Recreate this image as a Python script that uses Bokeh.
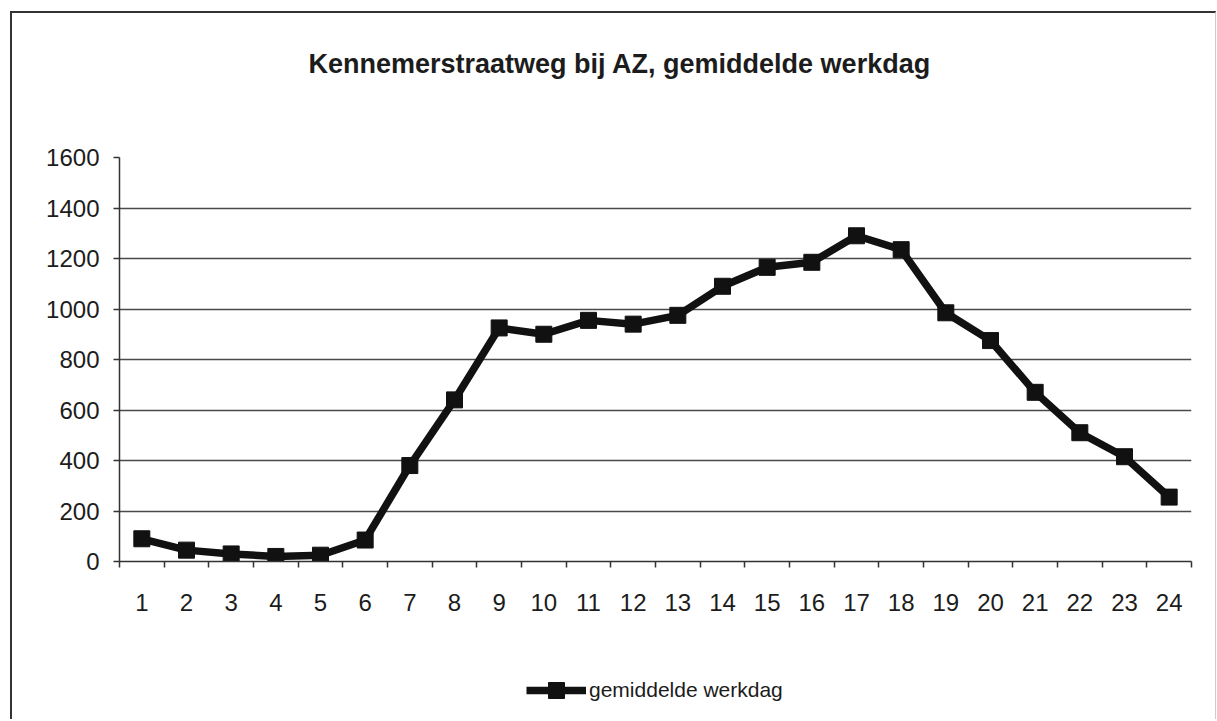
from bokeh.plotting import figure
from bokeh.layouts import column
from bokeh.models import FixedTicker, Legend, LegendItem, Range1d, Title
from bokeh.embed import file_html
from bokeh.resources import INLINE

# ---- data ----
hours = list(range(1, 25))
hour_labels = [str(h) for h in hours]
werkdag = [90, 45, 30, 20, 25, 85, 380, 640, 925, 900, 955, 940,
           975, 1090, 1165, 1185, 1290, 1235, 985, 875, 670, 510, 415, 255]
y_ticks = [0, 200, 400, 600, 800, 1000, 1200, 1400, 1600]
grid_ticks = [200, 400, 600, 800, 1000, 1200, 1400]
title_text = "Kennemerstraatweg bij AZ, gemiddelde werkdag"
series_name = "gemiddelde werkdag"

FONT = "Liberation Sans"
INK = "#1c1c1c"
LINE = "#111111"

p = figure(frame_width=1072, frame_height=404,
           min_border_left=107, min_border_right=24,
           min_border_top=144, min_border_bottom=70,
           output_backend="svg", toolbar_location=None,
           x_range=Range1d(0.5, 24.5), y_range=Range1d(0, 1600))

p.background_fill_color = "white"
p.border_fill_color = "white"
p.outline_line_color = None

# title (with an empty spacer panel between it and the plot area)
p.title.text = title_text
p.title.align = "left"
p.title.offset = 189
p.title.text_font = FONT
p.title.text_font_style = "bold"
p.title.text_font_size = "27px"
p.title.text_color = INK
p.title.standoff = 0
p.add_layout(Title(text=" ", text_font_size="20px", standoff=55), "above")

# grid
p.xgrid.visible = False
p.ygrid.ticker = FixedTicker(ticks=grid_ticks)
p.ygrid.grid_line_color = "#4a4a4a"
p.ygrid.grid_line_width = 1.5

# y axis
p.yaxis.ticker = FixedTicker(ticks=y_ticks)
p.yaxis.axis_line_color = "#333"
p.yaxis.axis_line_width = 1.5
p.yaxis.major_tick_line_color = "#333"
p.yaxis.major_tick_line_width = 1.5
p.yaxis.major_tick_in = 0
p.yaxis.major_tick_out = 6
p.yaxis.minor_tick_line_color = None
p.yaxis.major_label_standoff = 14
p.yaxis.major_label_text_font = FONT
p.yaxis.major_label_text_font_size = "24px"
p.yaxis.major_label_text_color = INK

# x axis: labels at category centres, ticks between categories
p.xaxis.ticker = FixedTicker(ticks=hours, minor_ticks=[h - 0.5 for h in hours] + [24.5])
p.xaxis.major_label_overrides = {h: lab for h, lab in zip(hours, hour_labels)}
p.xaxis.axis_line_color = "#333"
p.xaxis.axis_line_width = 1.5
p.xaxis.major_tick_line_color = None
p.xaxis.major_tick_in = 0
p.xaxis.major_tick_out = 0
p.xaxis.minor_tick_line_color = "#333"
p.xaxis.minor_tick_line_width = 1.5
p.xaxis.minor_tick_in = 0
p.xaxis.minor_tick_out = 6
p.xaxis.major_label_standoff = 26
p.xaxis.major_label_text_font = FONT
p.xaxis.major_label_text_font_size = "24px"
p.xaxis.major_label_text_color = INK

# series
p.line(hours, werkdag, line_color=LINE, line_width=7.5, line_join="round")
p.scatter(hours, werkdag, marker="square", size=16, fill_color=LINE, line_color=LINE)

# legend strip below the chart (same series, drawn outside its visible range)
lf = figure(width=1203, height=88, x_range=Range1d(-10, -9), y_range=Range1d(-10, -9),
            x_axis_type=None, y_axis_type=None, min_border=0,
            output_backend="svg", toolbar_location=None)
lf.outline_line_color = None
lf.grid.visible = False
lf_line = lf.line(hours, werkdag, line_color=LINE, line_width=7.5, line_join="round")
lf_marks = lf.scatter(hours, werkdag, marker="square", size=16, fill_color=LINE, line_color=LINE)
legend = Legend(items=[LegendItem(label=series_name, renderers=[lf_line, lf_marks])],
                location=(407, 9), orientation="horizontal",
                glyph_width=60, glyph_height=40, label_standoff=3,
                padding=0, margin=0, spacing=0,
                border_line_color=None, background_fill_alpha=0,
                label_text_font=FONT, label_text_font_size="21px",
                label_text_color=INK)
lf.add_layout(legend, "center")

page = column(p, lf, spacing=0)
page.styles = {"margin": "11px 0 0 10px",
               "border-top": "2px solid #333", "border-left": "2px solid #333",
               "border-right": "1px solid #ccc"}

open("out.html", "w").write(file_html(page, INLINE))
